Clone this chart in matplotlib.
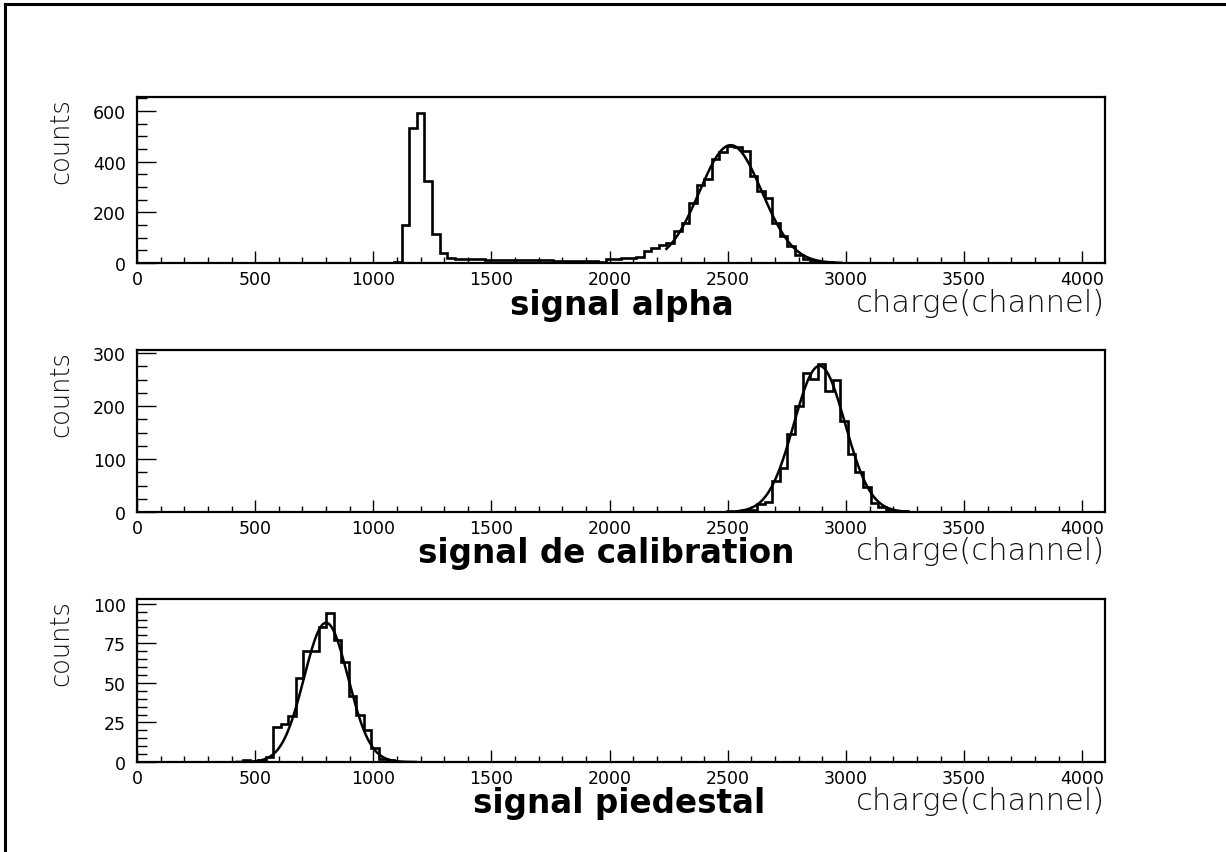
import numpy as np
import matplotlib
matplotlib.use("Agg")
import matplotlib.pyplot as plt
from matplotlib.lines import Line2D
from matplotlib.ticker import MultipleLocator

# ADC spectra, 128 bins of 32 channels each
BIN_WIDTH = 32
N_BINS = 128

# alpha source: pedestal-like peak near 1200 plus the alpha line near 2500
alpha_start = 34
alpha_counts = [5, 150, 531, 590, 325, 113, 39, 18,
                16, 15, 14, 14, 12, 11, 11, 10, 10, 10, 11, 12, 10, 9, 8, 8, 7, 6, 6, 5,
                14, 17, 21, 21, 24, 48, 58, 71, 79,
                128, 157, 237, 308, 332, 410, 437, 463, 457, 443, 345, 286, 255,
                158, 105, 68, 32, 16, 9, 4, 2, 1]
alpha_fit = dict(amp=465.0, mean=2512.0, sigma=132.0, lo=2240.0, hi=2980.0)

# calibration pulse
calib_start = 78
calib_counts = [1, 2, 3, 4, 16, 19, 59, 84, 147, 201, 262, 251, 279, 229,
                249, 172, 109, 75, 48, 17, 9, 3, 1, 2]
calib_fit = dict(amp=276.0, mean=2888.0, sigma=108.0, lo=2540.0, hi=3260.0)

# pedestal
ped_start = 14
ped_counts = [1, 0, 1, 3, 22, 24, 29, 53, 70, 70, 85, 94, 77, 63, 42, 30, 20, 9, 2, 1]
ped_fit = dict(amp=88.0, mean=800.0, sigma=93.0, lo=420.0, hi=1180.0)

panels = [
    dict(start=alpha_start, counts=alpha_counts, fit=alpha_fit, ymax=655, major=200, minor=50,
         title="signal alpha", box=(137, 98, 1105, 264), title_x=622),
    dict(start=calib_start, counts=calib_counts, fit=calib_fit, ymax=306, major=100, minor=25,
         title="signal de calibration", box=(137, 351, 1105, 513), title_x=606),
    dict(start=ped_start, counts=ped_counts, fit=ped_fit, ymax=103, major=25, minor=5,
         title="signal piedestal", box=(137, 600, 1105, 763), title_x=619),
]

W, H = 1226, 853
fig = plt.figure(figsize=(W / 100, H / 100), dpi=100)
fig.patch.set_facecolor("white")

# outer frame (left and top edges only)
fig.add_artist(Line2D([5 / W, 5 / W], [0, 1 - 5 / H], color="black", lw=2.2,
                      transform=fig.transFigure))
fig.add_artist(Line2D([5 / W, 1], [1 - 5 / H, 1 - 5 / H], color="black", lw=2.2,
                      transform=fig.transFigure))

edges = np.arange(N_BINS + 1) * BIN_WIDTH
label_font = "DejaVu Sans"

for p in panels:
    x0, y0, x1, y1 = p["box"]
    ax = fig.add_axes([x0 / W, 1 - y1 / H, (x1 - x0) / W, (y1 - y0) / H])

    counts = np.zeros(N_BINS)
    counts[p["start"]:p["start"] + len(p["counts"])] = p["counts"]
    ax.stairs(counts, edges, color="black", lw=1.9)

    f = p["fit"]
    xs = np.linspace(f["lo"], f["hi"], 300)
    ax.plot(xs, f["amp"] * np.exp(-0.5 * ((xs - f["mean"]) / f["sigma"]) ** 2),
            color="black", lw=1.8)

    ax.set_xlim(0, 4096)
    ax.set_ylim(0, p["ymax"])
    ax.xaxis.set_major_locator(MultipleLocator(500))
    ax.xaxis.set_minor_locator(MultipleLocator(100))
    ax.yaxis.set_major_locator(MultipleLocator(p["major"]))
    ax.yaxis.set_minor_locator(MultipleLocator(p["minor"]))
    ax.tick_params(axis="x", which="major", direction="in", length=8.6, width=1.0, pad=5)
    ax.tick_params(axis="x", which="minor", direction="in", length=4.3, width=1.0)
    ax.tick_params(axis="y", which="major", direction="in", length=13.5, width=1.0, pad=8)
    ax.tick_params(axis="y", which="minor", direction="in", length=7, width=1.0)
    ax.tick_params(labelsize=12.5)
    for lab in ax.get_xticklabels() + ax.get_yticklabels():
        lab.set_fontfamily(label_font)
    for s in ax.spines.values():
        s.set_linewidth(1.6)

    ax.text(-0.079, 1.0, "counts", transform=ax.transAxes, rotation=90,
            ha="center", va="top", fontsize=18.5, family=label_font, fontweight=200,
            color="#111111")
    ax.text(1.0, -0.235, "charge(channel)", transform=ax.transAxes, ha="right",
            va="center", fontsize=22, family=label_font, fontweight=200,
            color="#111111")
    fig.text(p["title_x"] / W, 1 - (y1 + 41) / H, p["title"], ha="center", va="center",
             fontsize=23.5, family=label_font, fontweight="bold")

fig.savefig("out.png", dpi=100)
